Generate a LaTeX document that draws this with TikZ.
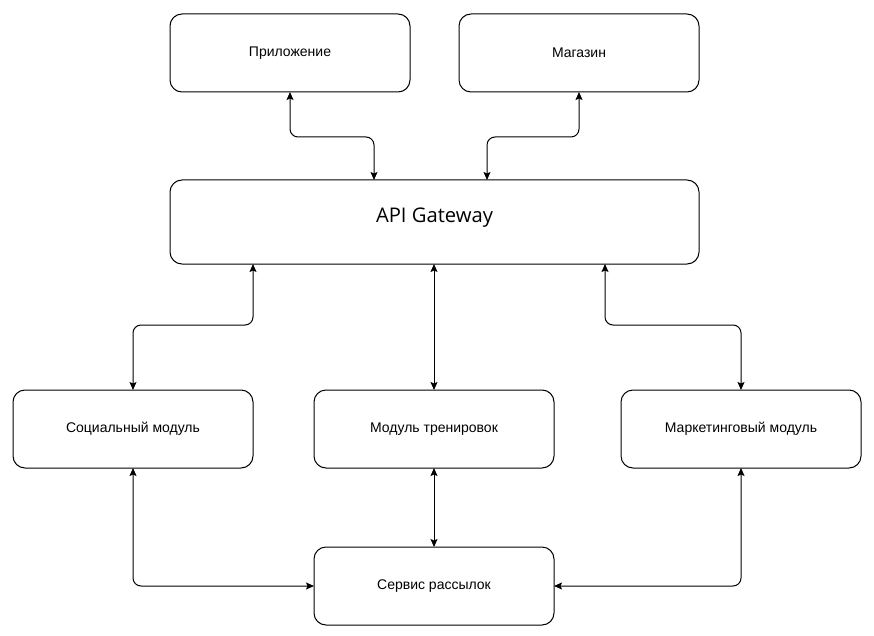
\documentclass[tikz,border=0pt]{standalone}
\usepackage{fontspec}
\setmainfont{Liberation Sans}
\newfontfamily\gwfont{Open Sans}
\usetikzlibrary{arrows.meta, positioning, calc}

\begin{document}
\begin{tikzpicture}[
    x=1pt, y=-1pt,
    box/.style={draw, rounded corners=12pt, line width=1pt, minimum width=240pt, minimum height=78pt,
        inner sep=0pt, outer sep=0pt, font=\fontsize{14}{16}\selectfont, align=center},
    link/.style={{Stealth[length=8pt, width=7pt, inset=1.5pt]}-{Stealth[length=8pt, width=7pt, inset=1.5pt]},
        line width=1pt, rounded corners=8pt}
]
    \useasboundingbox (0,0) rectangle (874,636);

    % верхний ряд
    \node[box] (app) at (290,53) {Приложение};
    \node[box] (shop) at (579,53) {Магазин};

    % шлюз
    \node[box, minimum width=529pt, minimum height=84pt, font=\gwfont\fontsize{20.2}{23}\selectfont, text depth=14pt]
        (api) at (434.5,222) {API Gateway};

    % модули
    \node[box] (social) at (133,429) {Социальный модуль};
    \node[box] (train) at (434,429) {Модуль тренировок};
    \node[box] (market) at (741,429) {Маркетинговый модуль};

    % рассылки
    \node[box, below=79pt of train] (mail) {Сервис рассылок};

    % связи со шлюзом
    \draw[link] (app.south) -- ++(0,45) -| ([xshift=204pt]api.north west);
    \draw[link] (shop.south) -- ++(0,45) -| ([xshift=317pt]api.north west);
    \draw[link] ([xshift=83pt]api.south west) -- ++(0,61) -| (social.north);
    \draw[link] (train.north |- api.south) -- (train.north);
    \draw[link] ([xshift=435pt]api.south west) -- ++(0,61) -| (market.north);

    % связи с сервисом рассылок
    \draw[link] (social.south) |- (mail.west);
    \draw[link] (train.south) -- (mail.north);
    \draw[link] (market.south) |- (mail.east);
\end{tikzpicture}
\end{document}
